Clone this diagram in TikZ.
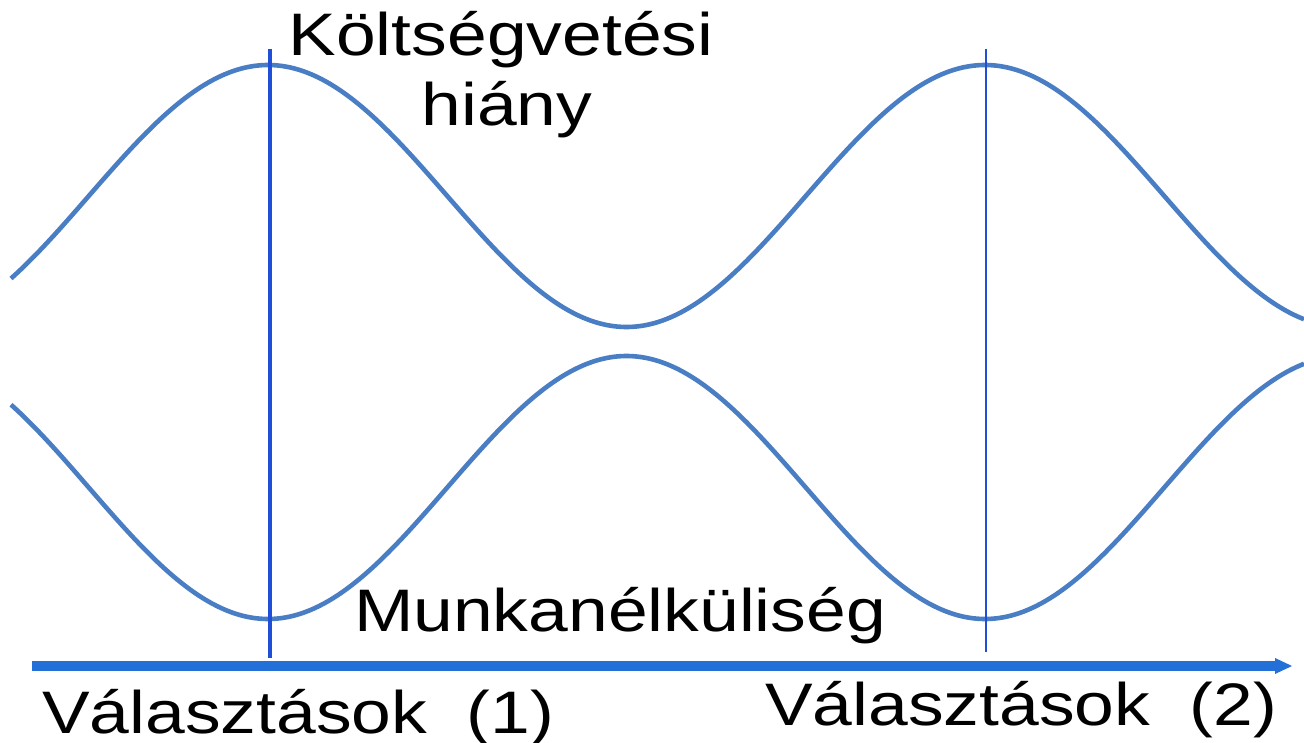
\documentclass[tikz,border=0pt]{standalone}
\usepackage{fontspec}
\setmainfont{Liberation Sans}
\usetikzlibrary{arrows.meta}
\definecolor{curveblue}{HTML}{4A7EC4}
\definecolor{lineblue}{HTML}{1F4FD8}
\definecolor{axisblue}{HTML}{2270D8}
\begin{document}
\begin{tikzpicture}[x=1pt,y=-1pt,
  curve/.style={draw=curveblue,line width=4.6pt},
  vline/.style={draw=lineblue},
  lbl/.style={inner sep=0pt,anchor=base,xscale=1.19,font=\fontsize{60}{70}\selectfont}]
\useasboundingbox (0,0) rectangle (1304,743);
% curves
\draw[curve] plot[domain=11:1304,samples=240,smooth] (\x,{196-131*cos(0.502092*(\x-268))});
\draw[curve] plot[domain=11:1304,samples=240,smooth] (\x,{487.5+131.5*cos(0.502092*(\x-268))});
% vertical lines
\coordinate (v1t) at (270,49);
\coordinate (v1b) at (270,658);
\coordinate (v2t) at (986,49);
\coordinate (v2b) at (986,652);
\draw[vline,line width=3.4pt] (v1t) -- (v1b);
\draw[vline,line width=2.2pt] (v2t) -- (v2b);
% axis
\coordinate (a0) at (32,666);
\coordinate (a1) at (1292,666);
\draw[draw=axisblue,line width=10pt,-{Triangle[length=17pt,width=16pt,line width=0pt]}] (a0) -- (a1);
% labels
\node[lbl] (k) at (501,56) {Költségvetési};
\node[lbl] (h) at (507,126) {hiány};
\node[lbl] (m) at (620,631) {Munkanélküliség};
\node[lbl,anchor=base west] (v1) at (42,733) {Választások\ \ (1)};
\node[lbl,anchor=base west] (v2) at (765,725) {Választások\ \ (2)};
\end{tikzpicture}
\end{document}
